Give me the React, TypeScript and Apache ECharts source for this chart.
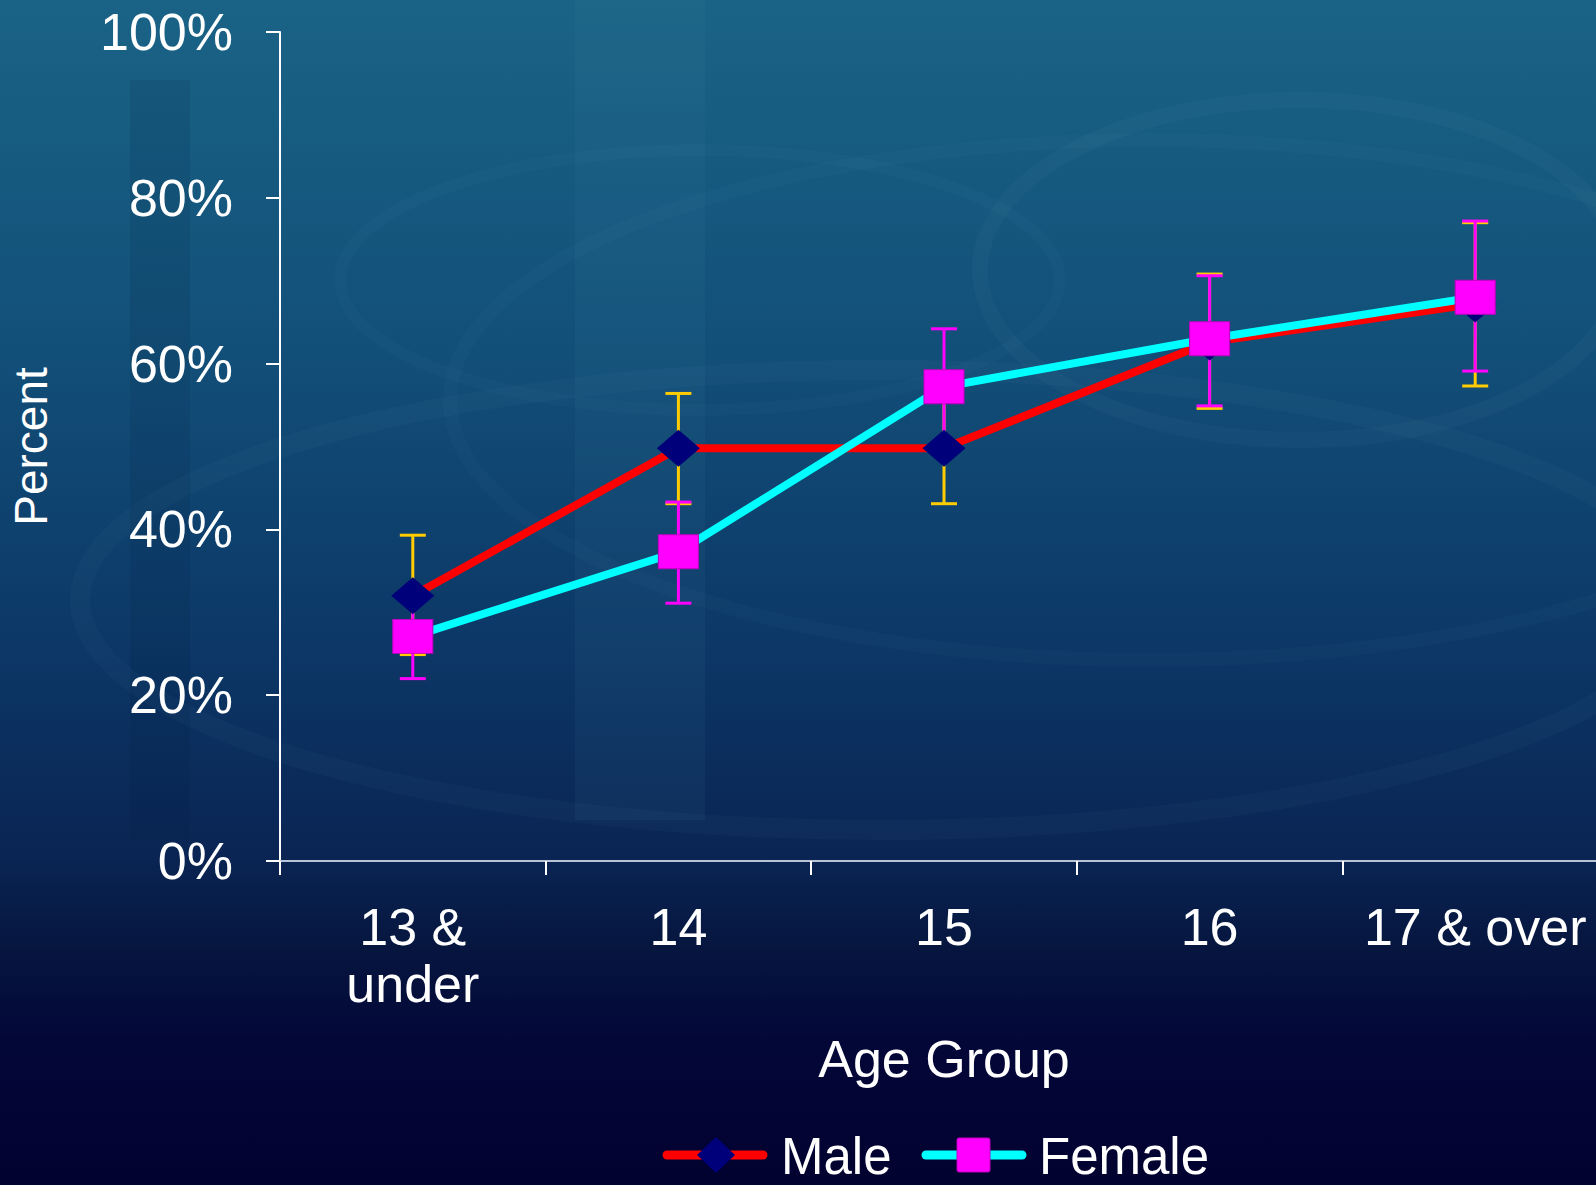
import React, { useEffect, useRef } from "react";
import * as echarts from "echarts";

const categories = ["13 &\nunder", "14", "15", "16", "17 & over"];
const maleValues = [32.0, 49.8, 49.8, 62.6, 67.2];
const maleLow = [24.9, 43.1, 43.1, 54.6, 57.3];
const maleHigh = [39.3, 56.4, 56.6, 70.8, 77.0];
const femaleValues = [27.1, 37.3, 57.2, 63.0, 68.0];
const femaleLow = [22.0, 31.1, 50.3, 54.9, 59.1];
const femaleHigh = [32.2, 43.3, 64.2, 70.6, 77.2];
const yTicks = [0, 20, 40, 60, 80, 100];
const legendNames = ["Male", "Female"];

const FONT = "Liberation Sans, Arial, sans-serif";
const RED = "#ff0000";
const CYAN = "#00ffff";
const NAVY = "#00007a";
const MAGENTA = "#ff00ff";

function errorSeries(name: string, low: number[], high: number[], color: string, z: number) {
  return {
    type: "custom",
    name,
    z,
    silent: true,
    data: low.map((l, i) => [i, l, high[i]]),
    renderItem: (params: any, api: any) => {
      const i = api.value(0);
      const lo = api.coord([i, api.value(1)]);
      const hi = api.coord([i, api.value(2)]);
      const hw = 13;
      const style = { stroke: color, lineWidth: 3 };
      return {
        type: "group",
        children: [
          { type: "line", shape: { x1: lo[0], y1: lo[1], x2: hi[0], y2: hi[1] }, style },
          { type: "line", shape: { x1: hi[0] - hw, y1: hi[1], x2: hi[0] + hw, y2: hi[1] }, style },
          { type: "line", shape: { x1: lo[0] - hw, y1: lo[1], x2: lo[0] + hw, y2: lo[1] }, style },
        ],
      };
    },
  };
}

export default function App() {
  const ref = useRef<HTMLDivElement>(null);
  useEffect(() => {
    const chart = echarts.init(ref.current!, null, { renderer: "svg" });
    const ring = (cx: number, cy: number, rx: number, ry: number, w: number, a: number) => ({
      type: "ellipse",
      silent: true,
      z: -10,
      shape: { cx, cy, rx, ry },
      style: { fill: "none", stroke: `rgba(130,180,215,${a})`, lineWidth: w },
    });
    const ly = 1155;
    chart.setOption({
      animation: false,
      backgroundColor: {
        type: "linear",
        x: 0,
        y: 0,
        x2: 0,
        y2: 1,
        colorStops: [
          { offset: 0, color: "#1a6386" },
          { offset: 0.3, color: "#124f78" },
          { offset: 0.55, color: "#0c3766" },
          { offset: 0.72, color: "#0a2554" },
          { offset: 0.8, color: "#06163f" },
          { offset: 0.88, color: "#030737" },
          { offset: 1, color: "#020230" },
        ],
      },
      graphic: [
        {
          type: "rect",
          silent: true,
          z: -11,
          shape: { x: 575, y: 0, width: 130, height: 820 },
          style: { fill: "rgba(90,150,190,0.07)" },
        },
        {
          type: "rect",
          silent: true,
          z: -11,
          shape: { x: 130, y: 80, width: 60, height: 760 },
          style: { fill: "rgba(0,20,50,0.10)" },
        },
        ring(880, 600, 800, 230, 20, 0.04),
        ring(1300, 270, 320, 170, 16, 0.045),
        ring(700, 280, 360, 130, 12, 0.03),
        ring(1150, 400, 700, 260, 14, 0.03),
        // legend
        {
          type: "line",
          silent: true,
          shape: { x1: 667, y1: ly, x2: 763, y2: ly },
          style: { stroke: RED, lineWidth: 9, lineCap: "round" },
        },
        {
          type: "polygon",
          silent: true,
          shape: { points: [[716, ly - 18], [735, ly], [716, ly + 18], [697, ly]] },
          style: { fill: NAVY },
        },
        {
          type: "text",
          silent: true,
          style: {
            x: 781,
            y: ly + 1,
            text: legendNames[0],
            fill: "#ffffff",
            font: `51px ${FONT}`,
            verticalAlign: "middle",
            align: "left",
          },
        },
        {
          type: "line",
          silent: true,
          shape: { x1: 926, y1: ly, x2: 1022, y2: ly },
          style: { stroke: CYAN, lineWidth: 9, lineCap: "round" },
        },
        {
          type: "rect",
          silent: true,
          shape: { x: 957, y: ly - 17, width: 33, height: 34, r: 2 },
          style: { fill: MAGENTA, stroke: "#c000c0", lineWidth: 1 },
        },
        {
          type: "text",
          silent: true,
          style: {
            x: 1039,
            y: ly + 1,
            text: legendNames[1],
            fill: "#ffffff",
            font: `51px ${FONT}`,
            verticalAlign: "middle",
            align: "left",
          },
        },
      ],
      grid: { left: 273, top: 32, right: 0, bottom: 324, containLabel: false },
      xAxis: {
        type: "category",
        data: categories,
        boundaryGap: true,
        name: "Age Group",
        nameLocation: "middle",
        nameGap: 172,
        nameTextStyle: { color: "#ffffff", fontSize: 52, fontFamily: FONT },
        axisLine: { lineStyle: { color: "#b7c3d6", width: 2 } },
        axisTick: { show: true, length: 14, alignWithLabel: false, lineStyle: { color: "#ffffff", width: 2 } },
        axisLabel: {
          color: "#ffffff",
          fontSize: 52,
          fontFamily: FONT,
          margin: 37,
          lineHeight: 57,
          interval: 0,
        },
      },
      yAxis: {
        type: "value",
        min: 0,
        max: 100,
        interval: 20,
        name: "Percent",
        nameLocation: "middle",
        nameGap: 226,
        nameTextStyle: { color: "#ffffff", fontSize: 46, fontFamily: FONT },
        splitLine: { show: false },
        axisLine: { show: true, lineStyle: { color: "#ffffff", width: 2 } },
        axisTick: { show: true, length: 14, lineStyle: { color: "#ffffff", width: 2 } },
        axisLabel: {
          color: "#ffffff",
          fontSize: 52,
          fontFamily: FONT,
          margin: 47,
          formatter: (v: number) => (yTicks.includes(v) ? `${v}%` : ""),
        },
      },
      series: [
        errorSeries("MaleErr", maleLow, maleHigh, "#ffcc00", 1),
        errorSeries("FemaleErr", femaleLow, femaleHigh, MAGENTA, 1),
        {
          type: "line",
          name: "Male",
          z: 2,
          data: maleValues,
          symbol: "diamond",
          symbolSize: [43, 37],
          lineStyle: { color: RED, width: 8 },
          itemStyle: { color: NAVY, borderWidth: 0 },
        },
        {
          type: "line",
          name: "Female",
          z: 3,
          data: femaleValues,
          symbol: "rect",
          symbolSize: [40, 34],
          lineStyle: { color: CYAN, width: 8 },
          itemStyle: { color: MAGENTA, borderColor: "#c000c0", borderWidth: 1 },
        },
      ],
    });
    return () => chart.dispose();
  }, []);
  return (
    <div
      style={{
        position: "fixed",
        left: 0,
        top: 0,
        width: 1596,
        height: 1185,
        overflow: "hidden",
        background: "#020230",
      }}
    >
      <div ref={ref} style={{ width: 1608, height: 1185 }} />
    </div>
  );
}
